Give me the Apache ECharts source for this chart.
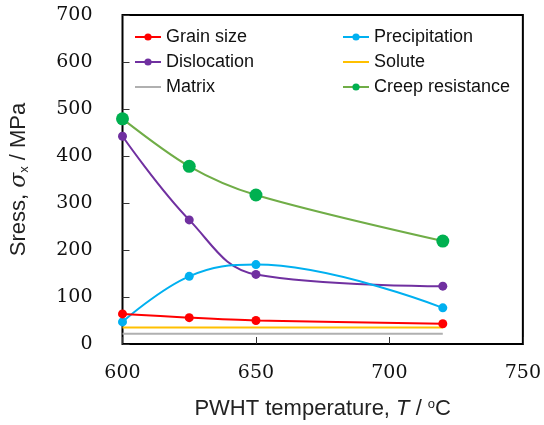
<!DOCTYPE html>
<html>
<head>
<meta charset="utf-8">
<script src="https://cdn.jsdelivr.net/npm/echarts@6/dist/echarts.min.js"></script>
<style>
  html, body { margin: 0; padding: 0; background: #fff; }
  #chart { width: 544px; height: 425px; }
</style>
</head>
<body>
<div id="chart"></div>
<script>
// PWHT temperatures (°C)
var temps = [600, 625, 650, 720];
// strengthening contributions (MPa)
var grainSize = [64, 56, 50, 43];
var dislocation = [442, 264, 148, 123];
var precipitation = [47, 144, 169, 77];
var solute = [35, 35, 35, 35];
var matrix = [22, 22, 22, 22];
var creep = [479, 378, 317, 219];

var xTicks = [600, 650, 700, 750];
var yTicks = [0, 100, 200, 300, 400, 500, 600, 700];

function pairs(ys) {
    return temps.map(function (t, i) { return [t, ys[i]]; });
}

function makeSeries(name, ys, color, opts) {
    var s = {
        name: name,
        type: 'line',
        data: pairs(ys),
        smooth: opts.smooth || false,
        symbol: 'circle',
        symbolSize: opts.size || 8,
        lineStyle: { color: opts.lineColor || color, width: 2 },
        itemStyle: { color: color },
        z: opts.z || 2
    };
    if (opts.size === 0) {
        s.symbol = 'none';
        s.showSymbol = false;
    }
    return s;
}

// legend entries for plain lines (no marker)
function lineOnly(name) {
    return { name: name, itemStyle: { opacity: 0 } };
}

var legendText = { fontFamily: 'Liberation Sans', fontSize: 18, color: '#111' };

var chart = echarts.init(document.getElementById('chart'));
var option = {
    animation: false,
    grid: {
        left: 121, right: 20, top: 15, bottom: 80,
        show: true, borderColor: '#000', borderWidth: 2
    },
    legend: [
        {
            data: ['Grain size', 'Dislocation', lineOnly('Matrix')],
            orient: 'vertical',
            left: 134, top: 28, padding: 0,
            itemWidth: 26, itemHeight: 9, itemGap: 7,
            textStyle: legendText
        },
        {
            data: ['Precipitation', lineOnly('Solute'), 'Creep resistance'],
            orient: 'vertical',
            left: 342, top: 28, padding: 0,
            itemWidth: 26, itemHeight: 9, itemGap: 7,
            textStyle: legendText
        }
    ],
    xAxis: {
        type: 'value',
        min: xTicks[0], max: xTicks[xTicks.length - 1], interval: 50,
        name: 'PWHT temperature, {i|T} / {sup|o}C',
        nameLocation: 'middle',
        nameGap: 54,
        nameTextStyle: {
            fontFamily: 'Liberation Sans', fontSize: 22, color: '#222',
            rich: {
                i: { fontFamily: 'Liberation Sans', fontStyle: 'italic', fontSize: 22, color: '#222' },
                sup: { fontFamily: 'Liberation Sans', fontSize: 13, color: '#222', verticalAlign: 'bottom', padding: [0, 0, 9, 0] }
            }
        },
        axisLine: { show: false },
        axisTick: { show: true, inside: true, length: 7, lineStyle: { color: '#333' } },
        splitLine: { show: false },
        axisLabel: { fontFamily: 'DejaVu Serif', fontSize: 19, color: '#111', margin: 20 }
    },
    yAxis: {
        type: 'value',
        min: yTicks[0], max: yTicks[yTicks.length - 1], interval: 100,
        name: 'Sress, {g|σ}{sub|x} / MPa',
        nameLocation: 'middle',
        nameGap: 92,
        nameTextStyle: {
            fontFamily: 'Liberation Sans', fontSize: 22, color: '#222',
            rich: {
                g: { fontFamily: 'DejaVu Serif', fontStyle: 'italic', fontSize: 22, color: '#222' },
                sub: { fontFamily: 'Liberation Sans', fontSize: 13, color: '#222', verticalAlign: 'top', padding: [10, 0, 0, 0] }
            }
        },
        axisLine: { show: false },
        axisTick: { show: true, inside: true, length: 7, lineStyle: { color: '#333' } },
        splitLine: { show: false },
        axisLabel: { fontFamily: 'DejaVu Serif', fontSize: 19, color: '#111', margin: 30 }
    },
    series: [
        makeSeries('Grain size', grainSize, '#ff0000', { smooth: 0.3, size: 9, z: 4 }),
        makeSeries('Dislocation', dislocation, '#7030a0', { smooth: 0.4, size: 9, z: 3 }),
        makeSeries('Matrix', matrix, '#b0b0b0', { size: 0 }),
        makeSeries('Precipitation', precipitation, '#00b0f0', { smooth: 0.4, size: 9, z: 3 }),
        makeSeries('Solute', solute, '#ffc000', { size: 0 }),
        makeSeries('Creep resistance', creep, '#00b050', { smooth: 0.3, size: 13, lineColor: '#70ad47', z: 5 })
    ]
};
chart.setOption(option);
</script>
</body>
</html>
